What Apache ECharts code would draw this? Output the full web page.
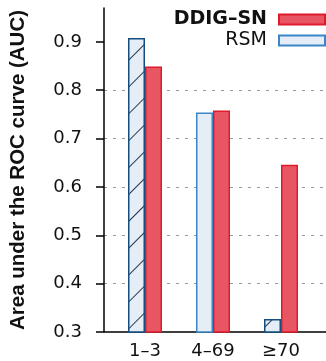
<!DOCTYPE html>
<html>
<head>
<meta charset="utf-8">
<script src="https://cdn.jsdelivr.net/npm/echarts@6/dist/echarts.min.js"></script>
<style>
html,body{margin:0;padding:0;background:#fff;}
#c{width:326px;height:361px;}
</style>
</head>
<body>
<div id="c"></div>
<script>
const categories = ['1–3', '4–69', '≥70'];
const rsmValues = [0.908, 0.754, 0.327];
const ddigValues = [0.849, 0.758, 0.646];
const yTicks = [0.3, 0.4, 0.5, 0.6, 0.7, 0.8, 0.9];
const hatched = [true, false, true];

const chart = echarts.init(document.getElementById('c'));
const tickFont = {fontFamily: 'DejaVu Sans', fontSize: 18, color: '#111'};
const hatchDecal = {
  symbol: 'rect',
  symbolSize: 1,
  dashArrayX: [1, 0],
  dashArrayY: [1, 18],
  rotation: -Math.PI / 4,
  color: '#1d3a55',
  backgroundColor: '#e5edf7'
};

chart.setOption({
  animation: false,
  backgroundColor: '#fff',
  grid: [
    {left: 102, right: 0, top: 8, bottom: 29},
    {left: 111, right: 11, top: 8, bottom: 29}
  ],
  legend: {
    orient: 'vertical',
    right: 0,
    top: 0,
    align: 'right',
    icon: 'rect',
    itemWidth: 46,
    itemHeight: 10,
    itemGap: 2,
    backgroundColor: '#fff',
    padding: [10, 0, 5, 7],
    textStyle: {fontFamily: 'DejaVu Sans', fontSize: 19, color: '#111', padding: [0, 7, 0, 0]},
    data: [
      {name: 'DDIG–SN', textStyle: {fontWeight: 'bold'}},
      {name: 'RSM'}
    ]
  },
  xAxis: [
    {
      type: 'category', gridIndex: 0, data: categories,
      axisLine: {show: true, lineStyle: {color: '#000', width: 1.5}},
      axisTick: {show: false}, axisLabel: {show: false}, splitLine: {show: false}
    },
    {
      type: 'category', gridIndex: 1, data: categories,
      axisLine: {show: false}, axisTick: {show: false},
      axisLabel: Object.assign({margin: 10}, tickFont)
    }
  ],
  yAxis: [
    {
      type: 'value', gridIndex: 0, min: 0.3, max: 0.97, interval: 0.1,
      name: 'Area under the ROC curve (AUC)',
      nameLocation: 'middle',
      nameGap: 75,
      nameTextStyle: {fontFamily: 'Liberation Sans', fontWeight: 'bold', fontSize: 20.5, color: '#111'},
      axisLine: {show: true, lineStyle: {color: '#000', width: 1.5}},
      axisTick: {show: true, length: 8, customValues: yTicks, lineStyle: {color: '#000', width: 1.5}},
      axisLabel: Object.assign({margin: 22, customValues: yTicks, formatter: v => v.toFixed(1)}, tickFont),
      splitLine: {show: true, showMinLine: false, showMaxLine: false, lineStyle: {color: '#999', type: [3, 6], width: 1}}
    },
    {
      type: 'value', gridIndex: 1, min: 0.3, max: 0.97, show: false,
      splitLine: {show: false}
    }
  ],
  series: [
    {
      name: 'RSM', type: 'bar', xAxisIndex: 1, yAxisIndex: 1,
      barWidth: 17, barGap: '0%',
      itemStyle: {color: '#e5edf7', borderColor: '#3a86c8', borderWidth: 1.5},
      data: rsmValues.map((v, i) => hatched[i]
        ? {value: v, itemStyle: {borderColor: '#154e7e', decal: hatchDecal}}
        : {value: v})
    },
    {
      name: 'DDIG–SN', type: 'bar', xAxisIndex: 1, yAxisIndex: 1,
      barWidth: 17, barGap: '0%',
      itemStyle: {color: '#e95663', borderColor: '#e01a2c', borderWidth: 1.5},
      data: ddigValues
    }
  ]
});
</script>
</body>
</html>
